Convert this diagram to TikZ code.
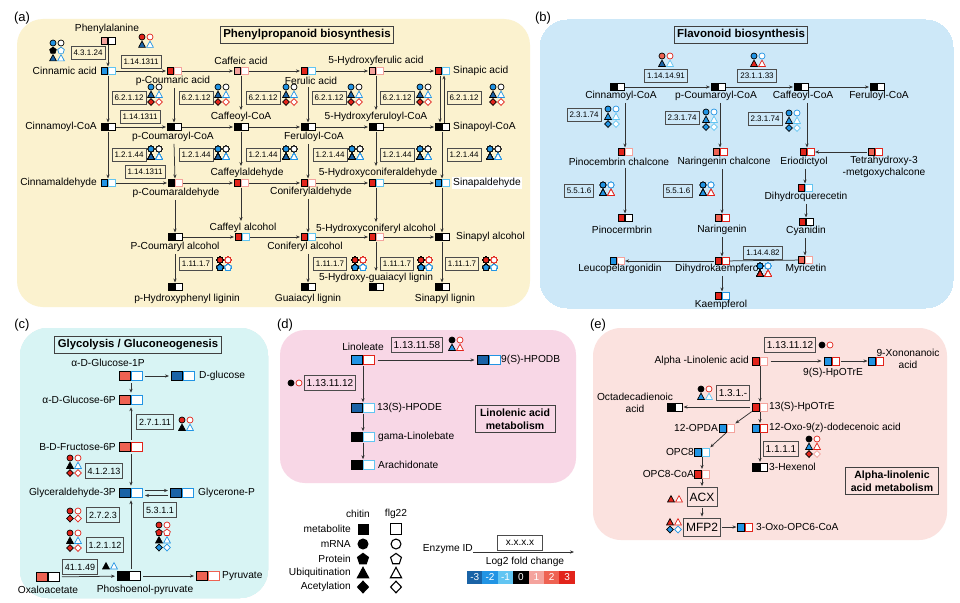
\documentclass[tikz,border=0pt]{standalone}
\usepackage{fontspec}
\setmainfont{Liberation Sans}
\usetikzlibrary{arrows.meta,calc}
\definecolor{cA}{HTML}{FBF2CF}
\definecolor{cB}{HTML}{CDE8F8}
\definecolor{cC}{HTML}{D8F4F4}
\definecolor{cD}{HTML}{F8D7E6}
\definecolor{cE}{HTML}{FBE2DF}
\definecolor{m3}{HTML}{1A63A6}
\definecolor{m2}{HTML}{2194E4}
\definecolor{m1}{HTML}{62C5F2}
\definecolor{p1}{HTML}{F4A39D}
\definecolor{p2}{HTML}{EE6252}
\definecolor{p3}{HTML}{E2241B}
\newcommand\fsz[1]{\fontsize{#1}{#1}\selectfont}
\tikzset{
 arr/.style={draw=black!80,line width=0.75pt,-{Stealth[length=4pt,width=3.2pt]},shorten >=1pt,shorten <=1pt},
 ln/.style={draw=black!80,line width=0.75pt},
 pr/.style={minimum width=14pt,minimum height=7pt,inner sep=0pt,outer sep=0pt},
 prE/.style={minimum width=15pt,minimum height=8pt,inner sep=0pt,outer sep=0pt},
 prL/.style={minimum width=23pt,minimum height=9.5pt,inner sep=0pt,outer sep=0pt},
 enz/.style={draw=black!70,line width=0.8pt,inner xsep=2.5pt,inner ysep=1pt,minimum height=12.5pt,font=\fsz{8}},
 enzc/.style={enz,minimum height=14.5pt,font=\fsz{9}},
 enzd/.style={enz,minimum height=15pt,inner xsep=2pt,font=\fsz{10}},
 ttl/.style={draw=black!75,line width=1pt,inner xsep=3pt,minimum height=16pt,font=\bfseries\fsz{11.5}},
 ttl2/.style={draw=black!75,line width=1pt,inner xsep=5pt,inner ysep=3pt,align=center,font=\bfseries\fontsize{10.5}{12.5}\selectfont},
 lb/.style={inner sep=1pt,font=\fsz{10.2}},
 lb2/.style={inner sep=1pt,align=center,font=\fontsize{10.2}{11.5}\selectfont},
 plab/.style={inner sep=0pt,font=\fsz{13}},
 gl/.style={line width=0.7pt},
}
\newcommand\metab[5][pr]{\node[#1] (#2) at (#3) {};
 \draw[line width=0.8pt,fill=#4] (#2.north west) rectangle ([xshift=-0.6pt]#2.south);
 \draw[line width=0.8pt,draw=#5,fill=white] ([xshift=0.6pt]#2.north) rectangle (#2.south east);}
\newcommand\gC[3]{\draw[gl,fill=#2,draw=#3,shift={(#1)}] (0,0) circle (3);}
\newcommand\gT[3]{\draw[gl,fill=#2,draw=#3,shift={(#1)}] (-3.4,2.9) -- (3.4,2.9) -- (0,-3.4) -- cycle;}
\newcommand\gP[3]{\draw[gl,fill=#2,draw=#3,shift={(#1)}] (0,-3.4) -- (3.3,-1) -- (2,2.9) -- (-2,2.9) -- (-3.3,-1) -- cycle;}
\newcommand\gD[3]{\draw[gl,fill=#2,draw=#3,shift={(#1)}] (0,-3.5) -- (3.3,0) -- (0,3.5) -- (-3.3,0) -- cycle;}
\newcommand\rw[4]{\csname g#1\endcsname{0,#2*7.5}{#3}{black}\csname g#1\endcsname{8,#2*7.5}{white}{#4}}
\newcommand\gcl[2]{\begin{scope}[shift={(#1)}]#2\end{scope}}
\begin{document}
\begin{tikzpicture}[x=1pt,y=-1pt]
\useasboundingbox (0,0) rectangle (960,602);
\fill[white] (0,0) rectangle (960,602);
% ================= (a)
\fill[cA,rounded corners=26pt] (17,19) rectangle (530,307);
\node[plab] (lblA) at (22,18) {(a)};
\node[ttl] (ta) at (307,35) {Phenylpropanoid biosynthesis};
\metab{phe}{108,41}{p1}{black}
\metab{cin}{108,71}{m2}{m1}
\metab{pca}{174,71}{p3}{p1}
\metab{caf}{241,71}{p1}{p1}
\metab{fer}{308,71}{p3}{m1}
\metab{hfa}{376,71}{p1}{p1}
\metab{sin}{442,71}{p3}{m1}
\metab{cic}{108,127}{black}{black}
\metab{pcc}{174,127}{black}{black}
\metab{cfc}{241,127}{black}{black}
\metab{frc}{308,127}{black}{black}
\metab{hfc}{376,127}{black}{black}
\metab{spc}{442,127}{black}{black}
\metab{cia}{108,183}{m2}{m1}
\metab{pcd}{175,183}{black}{p1}
\metab{cfd}{241,183}{p3}{p1}
\metab{cnd}{308,183}{p3}{p1}
\metab{hcd}{376,183}{p3}{m1}
\metab{spd}{442,183}{m2}{m1}
\metab{pco}{175,237}{black}{black}
\metab{cfo}{242,237}{p3}{m1}
\metab{cno}{308,237}{p3}{m1}
\metab{hco}{376,237}{p3}{p1}
\metab{spo}{442,237}{black}{black}
\metab{hpl}{175,287}{black}{black}
\metab{gul}{308,287}{black}{black}
\metab{hgl}{376,287}{black}{black}
\metab{spl}{442,287}{black}{black}
\node[lb] (pheL) at (107,29) {Phenylalanine};
\node[lb,anchor=east] (cinL) at (98,71) {Cinnamic acid};
\node[lb] (pcaL) at (173,81) {p-Coumaric acid};
\node[lb] (cafL) at (241,61) {Caffeic acid};
\node[lb] (ferL) at (311,81) {Ferulic acid};
\node[lb] (hfaL) at (376,61) {5-Hydroxyferulic acid};
\node[lb,anchor=west] (sinL) at (452,71) {Sinapic acid};
\node[lb,anchor=east] (cicL) at (98,127) {Cinnamoyl-CoA};
\node[lb] (pccL) at (173,137) {p-Coumaroyl-CoA};
\node[lb] (cfcL) at (241,117) {Caffeoyl-CoA};
\node[lb] (frcL) at (314,137) {Feruloyl-CoA};
\node[lb] (hfcL) at (376,117) {5-Hydroxyferuloyl-CoA};
\node[lb,anchor=west] (spcL) at (452,127) {Sinapoyl-CoA};
\node[lb,anchor=east] (ciaL) at (98,183) {Cinnamaldehyde};
\node[lb] (pcdL) at (176,193) {p-Coumaraldehyde};
\node[lb] (cfdL) at (247,173) {Caffeylaldehyde};
\node[lb] (cndL) at (311,192) {Coniferylaldehyde};
\node[lb] (hcdL) at (378,173) {5-Hydroxyconiferaldehyde};
\node[lb,anchor=west,fill=white] (spdL) at (452,183) {Sinapaldehyde};
\node[lb] (pcoL) at (175,247) {P-Coumaryl alcohol};
\node[lb] (cfoL) at (243,228) {Caffeyl alcohol};
\node[lb] (cnoL) at (305,247) {Coniferyl alcohol};
\node[lb] (hcoL) at (376,229) {5-Hydroxyconiferyl alcohol};
\node[lb,anchor=west] (spoL) at (455,237) {Sinapyl alcohol};
\node[lb] (hplL) at (187,299) {p-Hydroxyphenyl liginin};
\node[lb] (gulL) at (308,299) {Guaiacyl lignin};
\node[lb] (hglL) at (376,278) {5-Hydroxy-guaiacyl lignin};
\node[lb] (splL) at (445,299) {Sinapyl lignin};
\draw[arr] (phe) -- (cin);
\foreach \a/\b in {cin/pca,pca/caf,caf/fer,fer/hfa,hfa/sin,cic/pcc,pcc/cfc,cfc/frc,frc/hfc,hfc/spc,cia/pcd,pcd/cfd,cfd/cnd,cnd/hcd,hcd/spd,pco/cfo,cfo/cno,cno/hco,hco/spo} \draw[arr] (\a) -- (\b);
\draw[arr] (cin) -- (cic);
\draw[arr] (cic) -- (cia);
\draw[arr] (pcaL.south -| pca) -- (pcc.north);
\draw[arr] (pccL.south -| pcc) -- (pcd.north);
\draw[arr] (pcdL.south -| pcd) -- (pco.north);
\draw[arr] (pcoL.south -| pco) -- (hpl.north);
\draw[arr] (caf.south) -- (cfcL.north -| caf);
\draw[arr] (cfc.south) -- (cfdL.north -| cfc);
\draw[arr] (cfd.south) -- (cfoL.north -| cfd);
\draw[arr] (ferL.south -| fer) -- (frc.north);
\draw[arr] (frcL.south -| frc) -- (cnd.north);
\draw[arr] (cndL.south -| cnd) -- (cno.north);
\draw[arr] (cnoL.south -| cno) -- (gul.north);
\draw[arr] (hfa.south) -- (hfcL.north -| hfa);
\draw[arr] (hfc.south) -- (hcdL.north -| hfc);
\draw[arr] (hcd.south) -- (hcoL.north -| hcd);
\draw[arr] (hco.south) -- (hglL.north -| hco);
\draw[arr] ([xshift=-2pt]sin.south) -- ([xshift=-2pt]spc.north);
\draw[arr] ([xshift=2pt]spc.north) -- ([xshift=2pt]sin.south);
\draw[arr] (spc) -- (spd);
\draw[arr] (spd) -- (spo);
\draw[arr] (spo) -- (spl);
\node[enz] (z1) at (88,53) {4.3.1.24};
\node[enz] (z2) at (141,62) {1.14.1311};
\foreach \x [count=\i] in {129,196,263,329,397,464} \node[enz] (za\i) at (\x,98) {6.2.1.12};
\node[enz] (z3) at (140,117) {1.14.1311};
\foreach \x [count=\i] in {129,196,263,330,397,464} \node[enz] (zb\i) at (\x,155) {1.2.1.44};
\node[enz] (z4) at (145,172) {1.14.1311};
\foreach \x [count=\i] in {196,330,397,462} \node[enz] (zc\i) at (\x,264) {1.11.1.7};
\gcl{53,43}{\rw C0{m2}{black}\rw P1{black}{m2}\rw T2{m3}{m2}}
\gcl{142,37}{\rw C0{p3}{p3}\rw T1{m3}{m2}}
\foreach \x in {151,218,286,351,420,493} \gcl{\x,87}{\rw C0{m2}{black}\rw T1{m3}{m2}\rw D2{p3}{p3}}
\foreach \x in {151,218,286,352,420,490} \gcl{\x,149}{\rw C0{m2}{black}\rw T1{m3}{m2}}
\foreach \x in {220,355,421,486} \gcl{\x,260}{\rw C0{p3}{p3}\rw P1{m2}{m2}}
% ================= (b)
\fill[cB,rounded corners=28pt] (540,20) rectangle (953,308);
\node[plab] (lblB) at (543,18) {(b)};
\node[ttl] (tb) at (741,35) {Flavonoid biosynthesis};
\metab{b1}{617,87}{black}{black}
\metab{b2}{718,87}{black}{black}
\metab{b3}{801,87}{black}{black}
\metab{b4}{877,87}{black}{black}
\metab{b5}{625,152}{p3}{p1}
\metab{b6}{720,152}{p2}{p3}
\metab{b7}{807,152}{p3}{p3}
\metab{b8}{875,152}{p2}{p3}
\metab{b9}{625,218}{p3}{black}
\metab{b10}{722,218}{p2}{p3}
\metab{b11}{805,188}{p3}{m1}
\metab{b12}{806,222}{p3}{black}
\metab{b13}{805,260}{p2}{p1}
\metab{b14}{722,261}{p3}{p3}
\metab{b15}{617,261}{m2}{p1}
\metab{b16}{722,296}{p3}{m2}
\node[lb] (b1L) at (621,96) {Cinnamoyl-CoA};
\node[lb] (b2L) at (716,96) {p-Coumaroyl-CoA};
\node[lb] (b3L) at (803,96) {Caffeoyl-CoA};
\node[lb] (b4L) at (879,96) {Feruloyl-CoA};
\node[lb] (b5L) at (619,162) {Pinocembrin chalcone};
\node[lb] (b6L) at (724,162) {Naringenin chalcone};
\node[lb] (b7L) at (804,162) {Eriodictyol};
\node[lb2] (b8L) at (884,167) {Tetrahydroxy-3\\-metgoxychalcone};
\node[lb] (b9L) at (622,230) {Pinocermbrin};
\node[lb] (b10L) at (722,230) {Naringenin};
\node[lb] (b11L) at (806,197) {Dihydroquerecetin};
\node[lb] (b12L) at (806,231) {Cyanidin};
\node[lb] (b13L) at (806,269) {Myricetin};
\node[lb] (b14L) at (718,269) {Dihydrokaempferol};
\node[lb] (b15L) at (620,269) {Leucopelargonidin};
\node[lb] (b16L) at (721,305) {Kaempferol};
\draw[arr] (b1) -- (b2);
\draw[arr] (b2) -- (b3);
\draw[arr] (b3) -- (b4);
\draw[arr] (b1L.south -| b5) -- (b5.north);
\draw[arr] (b2L.south -| b6) -- (b6.north);
\draw[arr] (b3L.south -| b7) -- (b7.north);
\draw[arr] (b8) -- (b7);
\draw[arr] (b5L.south -| b9) -- (b9.north);
\draw[arr] (b6L.south -| b10) -- (b10.north);
\draw[arr] (b7L.south -| b11) -- (b11.north);
\draw[arr] (b11L.south -| b12) -- (b12.north);
\draw[arr] (b12L.south -| b13) -- (b13.north);
\draw[arr] (b10L.south -| b14) -- (b14.north);
\draw[arr] (b14) -- (b15);
\draw[ln] (b13) -- (b14);
\draw[arr] (b14L.south -| b16) -- (b16.north);
\node[enz] (y1) at (666,76) {1.14.14.91};
\node[enz] (y2) at (757,76) {23.1.1.33};
\node[enz] (y3) at (584,115) {2.3.1.74};
\node[enz] (y4) at (682,118) {2.3.1.74};
\node[enz] (y5) at (765,119) {2.3.1.74};
\node[enz] (y6) at (579,191) {5.5.1.6};
\node[enz] (y7) at (678,191) {5.5.1.6};
\node[enz] (y8) at (763,253) {1.14.4.82};
\gcl{662,56}{\rw C0{p2}{p3}\rw T1{m3}{m1}}
\gcl{754,56}{\rw C0{m2}{m2}\rw T1{p3}{p3}}
\foreach \x/\y in {608/109,706/112,789/113} \gcl{\x,\y}{\rw C0{m2}{m2}\rw T1{m2}{m1}\rw D2{m2}{m1}}
\foreach \x in {603,703} \gcl{\x,185}{\rw C0{m2}{m2}\rw T1{m2}{p3}}
\gcl{760,266}{\rw C0{m2}{m2}\rw T1{p3}{p3}}
% ================= (c)
\fill[cC,rounded corners=28pt] (20,328) rectangle (268,598);
\node[plab] (lblC) at (22,325) {(c)};
\node[ttl,font=\bfseries\fsz{11.3}] (tc) at (138,345) {Glycolysis / Gluconeogenesis};
\metab[prL]{c1}{131,376}{p2}{m2}
\metab[prL]{c2}{183,376}{m3}{m2}
\metab[prL]{c3}{131,400}{p2}{m2}
\metab[prL]{c4}{131,447}{p2}{p3}
\metab[prL]{c5}{131,493}{m3}{m2}
\metab[prL]{c6}{182,493}{m3}{m2}
\metab[prL]{c7}{129,576}{black}{black}
\metab[prL]{c8}{48,577}{p2}{black}
\metab[prL]{c9}{208,576}{p2}{p2}
\node[lb] (c1L) at (108,363) {α-D-Glucose-1P};
\node[lb,anchor=west] (c2L) at (198,376) {D-glucose};
\node[lb,anchor=east] (c3L) at (117,400) {α-D-Glucose-6P};
\node[lb,anchor=east] (c4L) at (117,447) {B-D-Fructose-6P};
\node[lb,anchor=east] (c5L) at (117,493) {Glyceraldehyde-3P};
\node[lb,anchor=west] (c6L) at (197,493) {Glycerone-P};
\node[lb] (c7L) at (145,590) {Phoshoenol-pyruvate};
\node[lb] (c8L) at (48,590) {Oxaloacetate};
\node[lb,anchor=west] (c9L) at (221,576) {Pyruvate};
\begin{scope}[arr/.append style={shorten >=2.5pt,shorten <=2.5pt}]
\draw[arr] (c1) -- (c2);
\draw[arr] (c1) -- (c3);
\draw[arr] (c4) -- (c3);
\draw[arr] (c4) -- (c5);
\draw[arr] ([yshift=2.5pt]c5.east) -- ([yshift=2.5pt]c6.west);
\draw[arr] ([yshift=-2.5pt]c6.west) -- ([yshift=-2.5pt]c5.east);
\draw[arr] (c7.north -| c5) -- (c5.south);
\draw[arr] (c8) -- (c7);
\draw[arr] (c7) -- (c9);
\end{scope}
\node[enzc] (x1) at (155,422) {2.7.1.11};
\node[enzc] (x2) at (104,471) {4.1.2.13};
\node[enzc] (x3) at (160,510) {5.3.1.1};
\node[enzc] (x4) at (103,515) {2.7.2.3};
\node[enzc] (x5) at (105,545) {1.2.1.12};
\node[enzc] (x6) at (80,567) {41.1.49};
\gcl{182,420}{\rw C0{p3}{p3}\rw T1{black}{m2}}
\gcl{70,458}{\rw C0{p3}{p3}\rw T1{black}{m2}\rw D2{p3}{p3}}
\gcl{159,525}{\rw C0{p3}{p3}\rw P1{p3}{p3}\rw T2{black}{m2}\rw D3{m2}{m2}}
\gcl{70,511}{\rw C0{p3}{p3}\rw D1{p3}{p3}}
\gcl{70,533}{\rw C0{p3}{p3}\rw T1{black}{m2}\rw D2{p3}{p3}}
\gcl{106,566}{\rw T0{black}{m2}}
% ================= (d)
\fill[cD,rounded corners=25pt] (280,330) rectangle (576,483);
\node[plab] (lblD) at (285,325) {(d)};
\metab[prL]{d1}{363,360}{m2}{p3}
\metab[prL]{d2}{489,360}{m3}{m2}
\metab[prL]{d3}{363,408}{m3}{m1}
\metab[prL]{d4}{363,437}{black}{m1}
\metab[prL]{d5}{363,465}{black}{m1}
\node[lb] (d1L) at (363,347) {Linoleate};
\node[lb,anchor=west] (d2L) at (500,360) {9(S)-HPODB};
\node[lb,anchor=west] (d3L) at (376,408) {13(S)-HPODE};
\node[lb,anchor=west] (d4L) at (377,437) {gama-Linolebate};
\node[lb,anchor=west] (d5L) at (377,465) {Arachidonate};
\draw[arr,shorten <=3pt,shorten >=3pt] (d1) -- (d2);
\draw[arr] (d1) -- (d3);
\draw[arr] (d3) -- (d4);
\draw[arr] (d4) -- (d5);
\node[enzd] (w1) at (417,345) {1.13.11.58};
\node[enzd] (w2) at (330,383) {1.13.11.12};
\gcl{452,340}{\rw C0{black}{p3}\rw T1{m2}{p3}}
\gcl{291,383}{\rw C0{black}{p3}}
\node[ttl2] (td) at (515,419) {Linolenic acid\\metabolism};
% legend
\node[lb] (lgc) at (358,514) {chitin};
\node[lb] (lgf) at (396,514) {flg22};
\node[lb,anchor=east] (lg1) at (352,529) {metabolite};
\node[lb,anchor=east] (lg2) at (352,544) {mRNA};
\node[lb,anchor=east] (lg3) at (352,559) {Protein};
\node[lb,anchor=east] (lg4) at (352,573) {Ubiquitination};
\node[lb,anchor=east] (lg5) at (352,587) {Acetylation};
\fill[black] (357.5,523.5) rectangle (368.5,534.5);
\draw[line width=1.1pt] (390.5,523.5) rectangle (401.5,534.5);
\foreach \s/\y in {C/544,P/559,T/573,D/587} {
 \begin{scope}[shift={(363,\y)},scale=1.65,gl/.style={line width=1.1pt}]\csname g\s\endcsname{0,0}{black}{black}\end{scope}
 \begin{scope}[shift={(396,\y)},scale=1.65,gl/.style={line width=1.1pt}]\csname g\s\endcsname{0,0}{white}{black}\end{scope}
}
\node[lb,anchor=east] (eid) at (474,549) {Enzyme ID};
\coordinate (eidA) at (473,552);
\coordinate (eidB) at (574,552);
\draw[arr,shorten <=0pt,shorten >=0pt] (eidA) -- (eidB);
\node[enzd,minimum width=45pt] (exx) at (520,543) {x.x.x.x};
\node[lb] (lfc) at (525,562) {Log2 fold change};
\foreach \c/\t [count=\i] in {m3/-3,m2/-2,m1/-1,black/0,p1/1,p2/2,p3/3}
 \node[fill=\c,minimum width=15.4pt,minimum height=13pt,inner sep=0pt,text=white,font=\fsz{10}] (cb\i) at ({467+15.4*(\i-0.5)},577.5) {\t};
% ================= (e)
\fill[cE,rounded corners=28pt] (593,328) rectangle (947,540);
\node[plab] (lblE) at (598,325) {(e)};
\metab[prE]{e1}{760,361}{p3}{p1}
\metab[prE]{e2}{832,361}{m2}{p3}
\metab[prE]{e3}{876,361}{m2}{p3}
\metab[prE]{e4}{760,407}{p3}{p1}
\metab[prE]{e5}{675,407}{black}{black}
\metab[prE]{e6}{727,428}{m2}{p1}
\metab[prE]{e7}{760,428}{m2}{p3}
\metab[prE]{e8}{760,467}{black}{black}
\metab[prE]{e9}{702,452}{m2}{m1}
\metab[prE]{e10}{702,474}{p3}{p1}
\metab[prE]{e11}{745,527}{m2}{p3}
\node[lb,anchor=east] (e1L) at (750,361) {Alpha -Linolenic acid};
\node[lb] (e2L) at (833,373) {9(S)-HpOTrE};
\node[lb2] (e3L) at (908,359) {9-Xononanoic\\acid};
\node[lb,anchor=west] (e4L) at (768,407) {13(S)-HpOTrE};
\node[lb2] (e5L) at (635,403) {Octadecadienoic\\acid};
\node[lb,anchor=east] (e6L) at (719,428) {12-OPDA};
\node[lb,anchor=west] (e7L) at (768,428) {12-Oxo-9(z)-dodecenoic acid};
\node[lb,anchor=west] (e8L) at (768,467) {3-Hexenol};
\node[lb,anchor=east] (e9L) at (695,452) {OPC8};
\node[lb,anchor=east] (e10L) at (695,474) {OPC8-CoA};
\node[lb,anchor=west] (e11L) at (755,527) {3-Oxo-OPC6-CoA};
\node[enzd,font=\fsz{12},minimum width=30pt,minimum height=19pt] (acx) at (702,497) {ACX};
\node[enzd,font=\fsz{12},minimum width=37pt,minimum height=18pt] (mfp) at (702,527) {MFP2};
\draw[arr,shorten <=3pt,shorten >=3pt] (e1) -- (e2);
\draw[arr] (e2) -- (e3);
\draw[arr] (e1) -- (e4);
\draw[arr,shorten <=3pt] (e4) -- (e5);
\draw[arr] (e4.south west) -- (e6.north east);
\draw[arr] (e4) -- (e7);
\draw[arr] (e7) -- (e8);
\draw[arr] (e6.south) -- (e9.north east);
\draw[arr] (e9) -- (e10);
\draw[arr] (e10) -- (acx);
\draw[arr] (acx) -- (mfp);
\draw[arr] (mfp) -- (e11);
\node[enzd] (v1) at (790,345) {1.13.11.12};
\node[enzd] (v2) at (733,393) {1.3.1.-};
\node[enzd] (v3) at (781,449) {1.1.1.1};
\gcl{822,345}{\rw C0{black}{p3}}
\gcl{701,389}{\rw C0{black}{p3}\rw T1{m2}{m1}}
\gcl{809,439}{\rw C0{black}{p3}\rw T1{m2}{p3}\rw D2{p3}{p1}}
\gcl{671,499}{\rw T0{p3}{p3}}
\gcl{670,522}{\rw T0{p3}{p3}\rw D1{m2}{m2}}
\node[ttl2] (te) at (892,481) {Alpha-linolenic\\acid metabolism};
\end{tikzpicture}
\end{document}
